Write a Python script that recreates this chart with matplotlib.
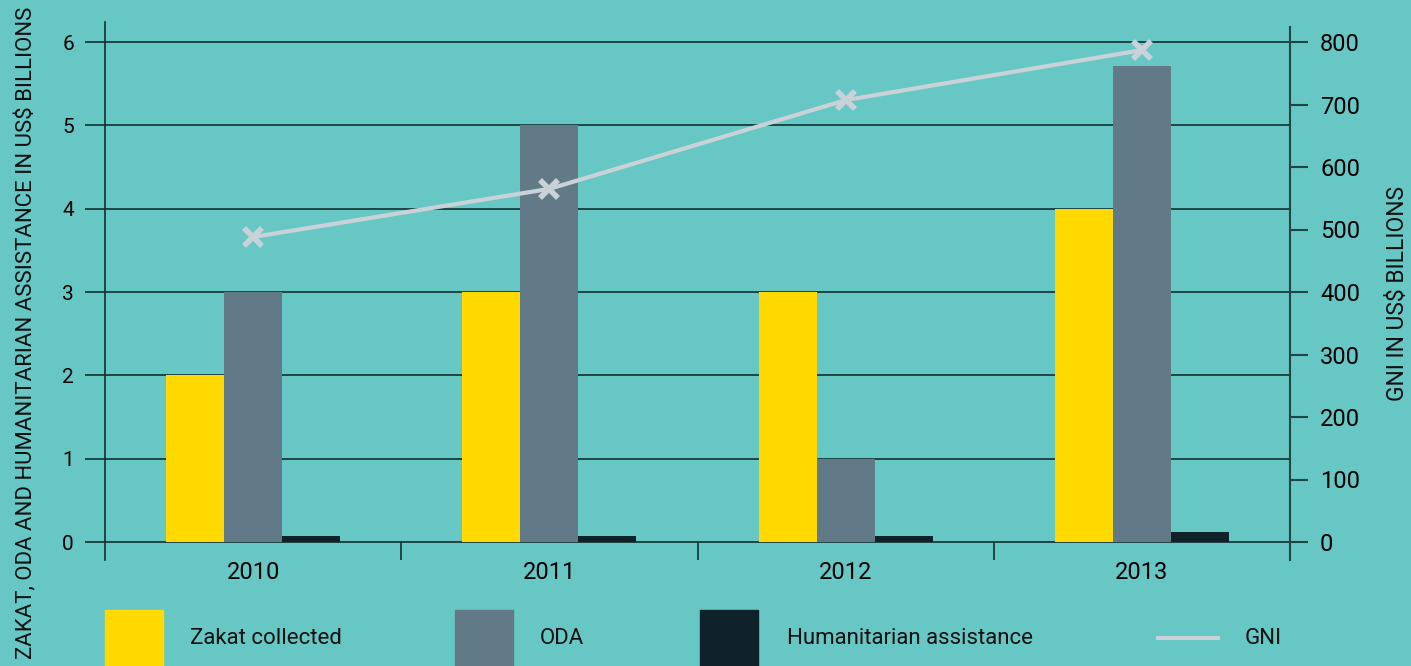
import numpy as np
import matplotlib
matplotlib.use('Agg')
import matplotlib.pyplot as plt
from matplotlib.patches import Rectangle
from matplotlib.lines import Line2D

years = ['2010', '2011', '2012', '2013']
zakat = [2.0, 3.0, 3.0, 4.0]
oda = [3.0, 5.0, 1.0, 5.71]
humanitarian = [0.07, 0.07, 0.07, 0.12]
gni = [488, 565, 707, 787]

bg = '#67C7C5'
c_zakat = '#FFD900'
c_oda = '#627A87'
c_hum = '#0F2129'
c_gni = '#C8D2D8'
c_dark = '#1E4645'

plt.rcParams['font.family'] = ['Roboto', 'DejaVu Sans']

W, H = 1411, 666
fig = plt.figure(figsize=(W/100, H/100), dpi=100, facecolor=bg)

def fx(px):
    return px / W

def fy(py):
    return 1 - py / H

ax = fig.add_axes([fx(105), fy(560), fx(1290) - fx(105), fy(22) - fy(560)])
ax.set_facecolor(bg)

x = np.arange(len(years))
w = 0.196
ax.bar(x - w, zakat, width=w, color=c_zakat, zorder=2)
ax.bar(x, oda, width=w, color=c_oda, zorder=2)
ax.bar(x + w, humanitarian, width=w, color=c_hum, zorder=2)

ax.set_xlim(-0.5, 3.5)
ax.set_ylim(-0.216, 6.24)
ax.set_yticks(range(7))
ax.yaxis.grid(True, color='#10302f', linewidth=1.2, zorder=1)
ax.set_axisbelow(True)
ax.tick_params(axis='y', length=14.4, width=1.2, color='#10302f', pad=8, labelsize=15)

# category separators on the x axis
ax.set_xticks([0.5, 1.5, 2.5])
ax.set_xticklabels([])
ax.tick_params(axis='x', which='major', direction='in', length=13, width=1.2, color='#10302f')
ax.set_xticks(x, minor=True)
ax.set_xticklabels(years, minor=True)
ax.tick_params(axis='x', which='minor', length=0, pad=1, labelsize=17)

for s in ['top', 'bottom', 'right']:
    ax.spines[s].set_visible(False)
ax.spines['left'].set_color('#10302f')
ax.spines['left'].set_linewidth(1.2)

ax2 = ax.twinx()
ax2.set_ylim(-0.216 * 800 / 6, 6.24 * 800 / 6)
ax2.set_yticks(range(0, 801, 100))
ax2.plot(x, gni, color=c_gni, linewidth=3, marker='x', markersize=13,
         markeredgewidth=4, zorder=3)
for s in ['top', 'bottom', 'left']:
    ax2.spines[s].set_visible(False)
ax2.spines['right'].set_color(c_dark)
ax2.spines['right'].set_linewidth(1.5)
ax2.spines['right'].set_bounds(-0.216 * 800 / 6, 824)
ax2.tick_params(axis='y', length=13, width=1.5, color=c_dark, pad=8.6, labelsize=17)

fig.text(fx(26), fy(333), 'ZAKAT, ODA AND HUMANITARIAN ASSISTANCE IN US$ BILLIONS',
         rotation=90, ha='center', va='center', fontsize=15.9, color='#111111')
fig.text(fx(1397), fy(294), 'GNI IN US$ BILLIONS',
         rotation=90, ha='center', va='center', fontsize=16.5, color='#111111')

# legend
for left, col, label, tx in [(105, c_zakat, 'Zakat collected', 190),
                             (455, c_oda, 'ODA', 540),
                             (700, c_hum, 'Humanitarian assistance', 787)]:
    fig.patches.append(Rectangle((fx(left), fy(670)), fx(58), fy(610) - fy(670),
                                 transform=fig.transFigure, color=col))
    fig.text(fx(tx), fy(638), label, ha='left', va='center', fontsize=16, color='#111111')
fig.lines.append(Line2D([fx(1158), fx(1218)], [fy(638), fy(638)], transform=fig.transFigure,
                        color=c_gni, linewidth=3))
fig.text(fx(1245), fy(638), 'GNI', ha='left', va='center', fontsize=16, color='#111111')

fig.savefig('out.png', dpi=100, facecolor=bg)
